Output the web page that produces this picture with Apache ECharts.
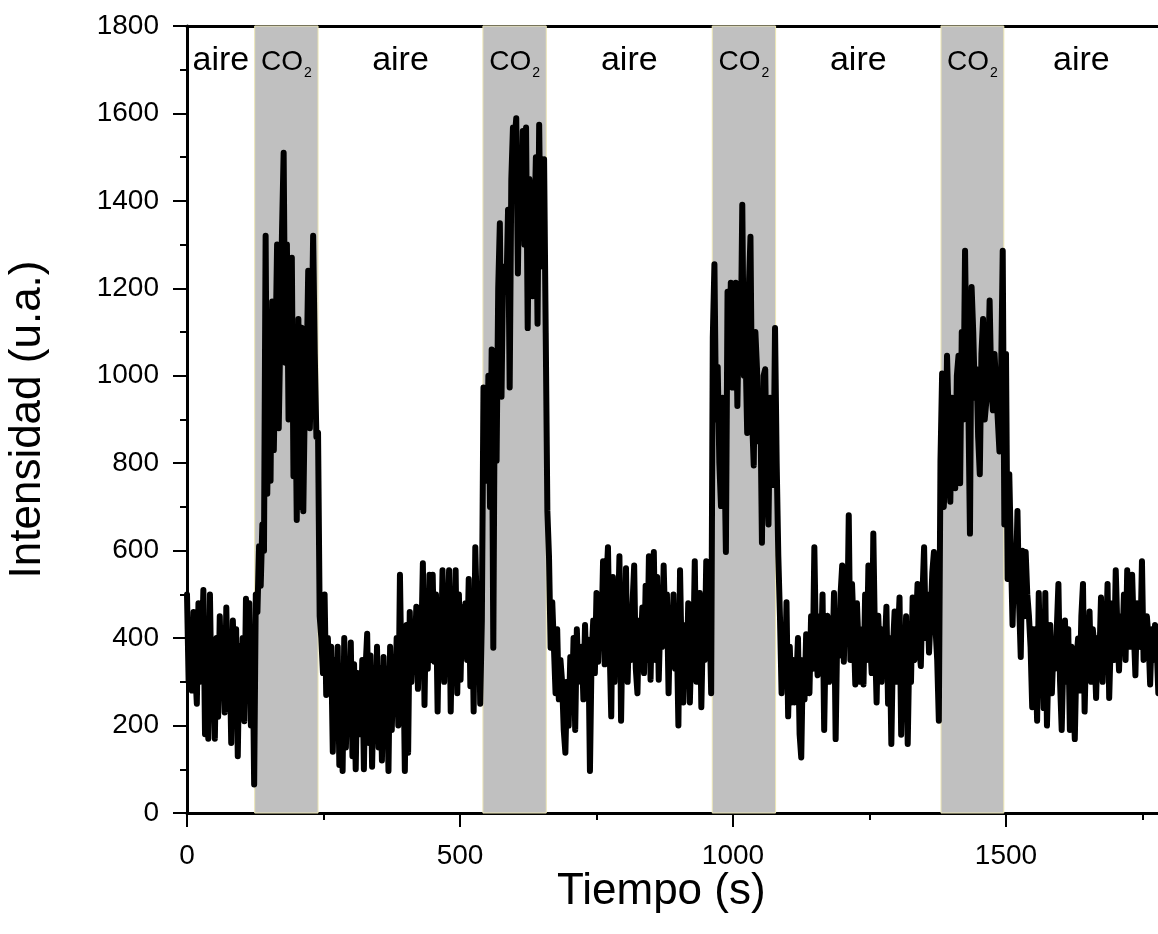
<!DOCTYPE html>
<html><head><meta charset="utf-8">
<script src="https://cdn.jsdelivr.net/npm/echarts@6/dist/echarts.min.js"></script>
<style>html,body{margin:0;padding:0;background:#fff}#c{width:1158px;height:934px}</style>
</head><body><div id="c"></div>
<script>
// Sampling step of the recorded signal (s)
const timeStep = 3;
// Intensity (u.a.), one value every 3 s starting at t = 0
const intensity = [
500,300,430,280,460,330,250,480,300,360,
510,180,420,170,500,260,350,170,400,220,
450,300,390,230,470,280,380,160,440,300,
420,130,380,250,400,210,490,300,480,200,
420,65,500,460,610,520,660,600,1320,730,
980,760,1170,830,1050,1300,880,1100,1330,1510,
1030,1300,900,1180,1270,770,1050,670,1130,700,
1110,690,960,1000,1240,880,1060,1320,1050,860,
870,450,400,320,500,270,400,300,380,140,
350,200,380,110,330,96,400,150,300,200,
390,130,340,100,320,250,180,350,100,330,
410,160,360,106,300,200,380,150,330,120,
357,210,330,96,380,190,330,240,400,200,
545,300,380,96,430,138,460,300,420,350,
472,284,440,380,571,247,500,330,545,350,
545,346,500,232,480,350,555,300,470,420,
555,232,450,380,555,274,500,305,470,380,
480,350,535,290,500,232,608,450,520,250,
440,973,869,760,1000,700,1060,378,1057,806,
1200,1349,952,1250,1234,1192,1380,973,1450,1568,
1540,1589,1234,1500,1360,1560,1300,1568,1109,1450,
1359,1182,1320,1500,1119,1574,1250,1330,1495,1098,
691,587,378,482,380,274,420,260,350,300,
190,138,300,200,357,250,400,190,420,300,
346,380,260,430,300,396,96,360,440,320,
503,346,480,400,576,340,520,608,380,221,
540,300,500,420,587,211,450,380,560,300,
450,350,480,566,330,274,440,380,470,320,
520,350,587,305,480,597,350,540,305,450,
380,566,420,500,274,450,380,500,330,420,
200,555,350,253,430,300,480,253,400,350,
576,300,460,503,242,430,350,576,380,450,
274,1088,1255,900,1020,800,702,950,850,597,
1192,980,1213,973,1100,1213,931,1150,1050,1391,
1000,1057,869,1200,1318,900,795,1100,1015,850,
950,618,1000,1015,760,660,950,900,750,1109,
800,587,450,274,400,300,482,221,380,253,
350,253,300,400,180,127,350,260,409,300,
274,450,330,608,380,315,450,350,500,190,
420,451,300,400,350,503,169,420,360,500,
566,346,500,400,681,350,524,420,294,480,
380,300,420,294,500,350,566,400,320,639,
400,253,451,350,300,420,380,472,250,400,
158,380,461,300,400,493,179,380,300,450,
158,380,300,493,350,420,524,380,336,500,
608,400,500,367,450,550,597,420,350,211,
806,1005,700,775,1046,900,712,950,850,743,
1000,1046,754,1100,900,1286,1000,942,639,1203,
1100,950,1015,860,775,1050,1130,900,942,1000,
1172,980,921,1050,1046,900,827,1000,1286,660,
1050,535,775,600,430,580,520,691,480,357,
600,450,597,500,451,380,242,420,350,211,
503,300,400,240,503,200,350,430,274,380,
330,420,524,300,190,350,440,300,420,190,
380,300,169,350,399,280,450,524,232,400,
350,461,300,420,380,263,400,350,493,300,
450,380,524,263,400,480,350,555,420,326,
450,380,500,350,555,420,380,545,420,315,
480,400,380,576,350,378,450,400,294,420,
350,430,380,274
];
// Gas periods (s)
const co2Periods = [[124,240],[542,658],[962,1078],[1381,1496]];
const airPeriods = [[0,124],[240,542],[658,962],[1078,1381],[1496,1780]];
const airLabel = 'aire';
const co2Label = ['CO','2'];
const xTitle = 'Tiempo (s)';
const yTitle = 'Intensidad (u.a.)';

const FONT = "'Liberation Sans', Arial, sans-serif";
const chart = echarts.init(document.getElementById('c'), null, {renderer:'canvas'});

const seriesData = intensity.map((v,i)=>[i*timeStep, v]);

const areaData = [];
co2Periods.forEach(p=>{
  areaData.push([{xAxis:p[0], itemStyle:{color:'#c0c0c0', borderColor:'#ece6b4', borderWidth:1},
    label:{show:true, position:'insideTop', distance:23, formatter:'{a|'+co2Label[0]+'}{b|'+co2Label[1]+'}',
      rich:{a:{fontSize:28, lineHeight:28, verticalAlign:'top', fontFamily:FONT, color:'#000'},
            b:{fontSize:14, lineHeight:14, padding:[22,0,0,1], fontFamily:FONT, color:'#000'}}}},
    {xAxis:p[1]}]);
});
airPeriods.forEach(p=>{
  areaData.push([{xAxis:p[0], itemStyle:{color:'rgba(0,0,0,0)', borderWidth:0},
    label:{show:true, position:'insideTop', distance:17, formatter:'{t|'+airLabel+'}',
      rich:{t:{fontSize:34, lineHeight:35, fontFamily:FONT, color:'#000'}}}},
    {xAxis:p[1]}]);
});

const axisColor = '#000';
const plain = v => String(v);
chart.setOption({
  animation:false,
  backgroundColor:'#fff',
  grid:{left:187, top:26, width:1092, height:787, containLabel:false, outerBoundsMode:'none'},
  graphic:[{
    type:'text', left:557, top:870, silent:true,
    style:{text:xTitle, fontSize:44, fontFamily:FONT, fill:'#000'}
  }],
  xAxis:[{
    type:'value', min:0, max:2000, interval:500, position:'bottom',
    axisLine:{show:true, onZero:false, lineStyle:{color:axisColor, width:3}},
    axisTick:{show:true, length:14, lineStyle:{color:axisColor, width:2}},
    minorTick:{show:true, splitNumber:2, length:7, lineStyle:{color:axisColor, width:2}},
    axisLabel:{fontSize:28, margin:29, color:'#000', fontFamily:FONT, formatter:plain},
    splitLine:{show:false}
  },{
    type:'value', min:0, max:2000, position:'top',
    axisLine:{show:true, onZero:false, lineStyle:{color:axisColor, width:3}},
    axisTick:{show:false}, axisLabel:{show:false}, splitLine:{show:false}
  }],
  yAxis:{
    type:'value', min:0, max:1800, interval:200,
    name:yTitle, nameLocation:'middle', nameGap:137, nameRotate:90,
    nameTextStyle:{fontSize:44, fontFamily:FONT, color:'#000'},
    axisLine:{show:true, onZero:false, lineStyle:{color:axisColor, width:3}},
    axisTick:{show:true, length:14, lineStyle:{color:axisColor, width:2}},
    minorTick:{show:true, splitNumber:2, length:7, lineStyle:{color:axisColor, width:2}},
    axisLabel:{fontSize:28, margin:28, color:'#000', fontFamily:FONT, formatter:plain},
    splitLine:{show:false}
  },
  series:[{
    type:'line', z:1, data:[], silent:true,
    markArea:{silent:true, data:areaData}
  },{
    type:'line', z:3, data:seriesData, showSymbol:false, symbol:'none',
    lineStyle:{color:'#000', width:6, cap:'round', join:'round'},
    clip:true
  }]
});
</script></body></html>
